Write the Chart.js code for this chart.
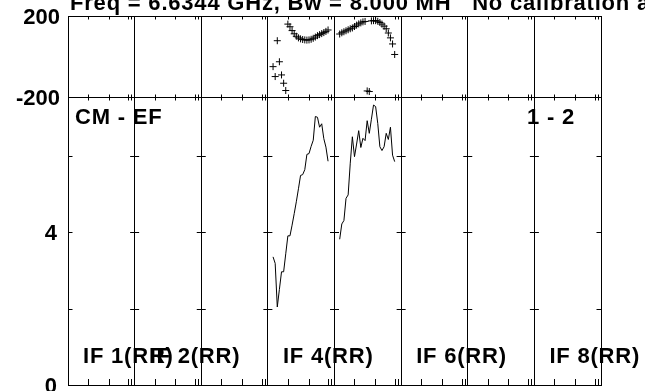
<!DOCTYPE html>
<html>
<head>
<meta charset="utf-8">
<script src="https://cdn.jsdelivr.net/npm/chart.js@4.4.1/dist/chart.umd.min.js"></script>
<style>
  html, body { margin: 0; padding: 0; background: #fff; }
  canvas { display: block; }
</style>
</head>
<body>
<canvas id="possm" width="645" height="391"></canvas>
<script>
// POSSM style spectrum: phase (top) and amplitude (bottom), 8 IFs side by side
const TITLE = 'Freq = 6.6344 GHz, Bw = 8.000 MH   No calibration a';
const BASELINE = 'CM - EF';
const SOURCE = '1 - 2';
const IF_NAMES = ['IF 1(RR)', 'IF 2(RR)', 'IF 3(RR)', 'IF 4(RR)', 'IF 5(RR)', 'IF 6(RR)', 'IF 7(RR)', 'IF 8(RR)'];
const IF_SHOWN = [1, 2, 4, 6, 8];

const CHANNELS = [3, 4, 5, 6, 7, 8, 9, 10, 11, 12, 13, 14, 15, 16, 17, 18, 19, 20, 21, 22, 23, 24, 25, 26, 27, 28, 29];

const IF4_PHASE = [-50, -99, 78, -26, -91, -132, -168, 160, 147, 128, 112, 100, 92, 87, 84, 82, 81, 82, 85, 90, 96, 103, 108, 113, 118, 124, 131];
const IF5_PHASE = [111, 117, 122, 127, 132, 137, 141, 148, 155, 161, 166, 171, 173, -170, -173, 176, 177, 177, 174, 168, 160, 150, 137, 116, 92, 62, 10];

const IF4_AMP = [3.35, 3.18, 2.04, 2.50, 2.96, 2.96, 3.43, 3.90, 3.90, 4.18, 4.48, 4.79, 5.13, 5.48, 5.50, 5.63, 6.03, 6.05, 6.24, 6.40, 7.02, 7.00, 6.74, 6.83, 6.44, 6.22, 5.85];
const IF5_AMP = [3.81, 4.21, 4.30, 4.88, 4.97, 5.80, 6.49, 5.97, 6.30, 6.65, 6.21, 6.45, 6.39, 6.91, 6.58, 6.95, 7.32, 7.28, 6.84, 6.23, 6.13, 6.23, 6.58, 6.42, 6.74, 6.01, 5.84];

const PHASE_TICKS = [-200, 0, 200];
const PHASE_LABELS = ['-200', '', '200'];
const AMP_TICKS = [0, 2, 4, 6];
const AMP_LABELS = ['0', '', '4', ''];

const NUM_IF = 8;
const IF_SPAN = 31.5;                       // channel units per IF panel
const CH_TICKS = [9.4, 19.25, 28.55, 30.0]; // minor ticks inside each panel
const FONT = 'bold 22px "Liberation Sans", Arial, sans-serif';

const chanX = (ifNum, ch) => (ifNum - 1) * IF_SPAN + ch - 0.55;
const series = (ifNum, vals) => vals.map((v, i) => ({ x: chanX(ifNum, CHANNELS[i]), y: v }));

const phaseSet = (ifNum, vals) => ({
  data: series(ifNum, vals),
  yAxisID: 'yPh',
  showLine: false,
  pointStyle: 'cross',
  pointRadius: 3.5,
  pointBorderColor: '#000',
  pointBorderWidth: 1
});
const ampSet = (ifNum, vals) => ({
  data: series(ifNum, vals),
  yAxisID: 'yAmp',
  borderColor: '#000',
  borderWidth: 1,
  pointRadius: 0,
  tension: 0
});

const decor = {
  id: 'decor',
  afterDraw(chart) {
    const { ctx, chartArea: a, scales: { x, yPh, yAmp } } = chart;
    const mid = Math.round(yPh.getPixelForValue(-200)) + 0.5;
    ctx.save();
    ctx.strokeStyle = '#000';
    ctx.lineWidth = 1;
    ctx.beginPath();
    for (let k = 0; k < NUM_IF; k++) {
      CH_TICKS.forEach(off => {
        const px = Math.round(x.getPixelForValue(k * IF_SPAN + off)) + 0.5;
        ctx.moveTo(px, a.top); ctx.lineTo(px, a.top + 3.5);
        ctx.moveTo(px, mid - 3); ctx.lineTo(px, mid + 3);
        ctx.moveTo(px, a.bottom); ctx.lineTo(px, a.bottom - 6);
      });
    }
    for (let k = 0; k <= NUM_IF; k++) {
      const px = x.getPixelForValue(k * IF_SPAN);
      [2, 4, 6].forEach(v => {
        const py = Math.round(yAmp.getPixelForValue(v)) + 0.5;
        ctx.moveTo(Math.max(a.left, px - 4.5), py);
        ctx.lineTo(Math.min(a.right, px + 4.5), py);
      });
    }
    ctx.stroke();

    ctx.fillStyle = '#000';
    ctx.font = FONT;
    ctx.letterSpacing = '0.8px';
    ctx.textBaseline = 'alphabetic';
    ctx.textAlign = 'left';
    ctx.fillText(TITLE, a.left + 2, 10);
    ctx.fillText(BASELINE, a.left + 7, mid + 26);
    ctx.fillText(SOURCE, a.right - 74, mid + 26);
    IF_SHOWN.forEach(n => {
      ctx.fillText(IF_NAMES[n - 1], x.getPixelForValue((n - 1) * IF_SPAN) + 15, a.bottom - 22);
    });
    ctx.restore();
  }
};

const yCommon = {
  position: 'left',
  stack: 'possm',
  border: { display: true, color: '#000', width: 1 },
  afterFit(scale) {
    scale.width = 68;
    scale.paddingTop = 0;
    scale.paddingBottom = 0;
  }
};

new Chart(document.getElementById('possm'), {
  type: 'line',
  data: {
    datasets: [
      phaseSet(4, IF4_PHASE),
      phaseSet(5, IF5_PHASE),
      ampSet(4, IF4_AMP),
      ampSet(5, IF5_AMP)
    ]
  },
  options: {
    responsive: false,
    animation: false,
    layout: { padding: { left: 0, top: 16, right: 44, bottom: 6 } },
    plugins: { legend: { display: false }, tooltip: { enabled: false } },
    scales: {
      x: {
        type: 'linear',
        min: 0,
        max: NUM_IF * IF_SPAN,
        afterBuildTicks(scale) {
          scale.ticks = Array.from({ length: NUM_IF + 1 }, (_, k) => ({ value: k * IF_SPAN }));
        },
        ticks: { display: false },
        grid: { color: '#000', lineWidth: 1, drawTicks: false },
        border: { display: true, color: '#000', width: 1 },
        afterFit(scale) { scale.height = 0; scale.paddingLeft = 0; scale.paddingRight = 0; }
      },
      yPh: Object.assign({}, yCommon, {
        type: 'linear',
        min: -200,
        max: 200,
        stackWeight: 81,
        weight: 2,
        afterBuildTicks(scale) { scale.ticks = PHASE_TICKS.map(v => ({ value: v })); },
        ticks: {
          padding: 8,
          labelOffset: 2,
          color: '#000',
          font: { family: '"Liberation Sans", Arial, sans-serif', size: 22, weight: 'bold' },
          callback: (v) => PHASE_LABELS[PHASE_TICKS.indexOf(v)]
        },
        grid: { color: '#000', lineWidth: 1, drawTicks: false }
      }),
      yAmp: Object.assign({}, yCommon, {
        type: 'linear',
        min: 0,
        max: 7.53,
        stackWeight: 288,
        weight: 1,
        afterBuildTicks(scale) { scale.ticks = AMP_TICKS.map(v => ({ value: v })); },
        ticks: {
          padding: 11,
          labelOffset: 2,
          color: '#000',
          font: { family: '"Liberation Sans", Arial, sans-serif', size: 22, weight: 'bold' },
          callback: (v) => AMP_LABELS[AMP_TICKS.indexOf(v)]
        },
        grid: { display: true, drawOnChartArea: false, drawTicks: false }
      })
    }
  },
  plugins: [decor]
});
</script>
</body>
</html>
